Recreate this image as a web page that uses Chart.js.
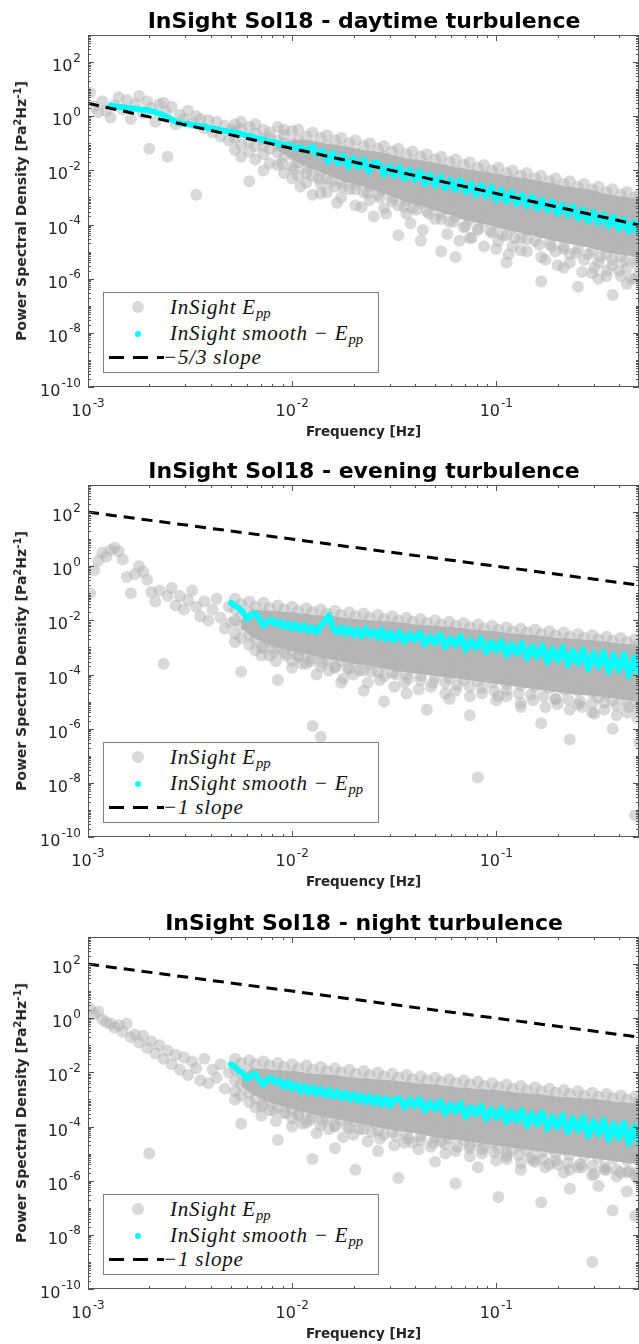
<!DOCTYPE html>
<html>
<head>
<meta charset="utf-8">
<script src="https://cdn.jsdelivr.net/npm/chart.js@4.4.1/dist/chart.umd.min.js"></script>
<style>
  html, body { margin: 0; padding: 0; background: #fff; overflow: hidden; }
  body { width: 639px; height: 1344px; position: relative; }
  .panel { position: absolute; left: 0; width: 639px; height: 448px; }
  .panel canvas { position: absolute; left: 0; top: 0; }
  .ttl { position: absolute; left: 364px; top: 20px; transform: translate(-50%, -50%); white-space: nowrap;
    font: bold 22px 'DejaVu Sans', sans-serif; color: #000; }
  .ytl { position: absolute; left: 21px; top: 211px; transform: translate(-50%, -50%) rotate(-90deg); white-space: nowrap;
    font: bold 14px 'DejaVu Sans', sans-serif; color: #262626; }
  .ytl sup { font-size: 72%; vertical-align: 5px; line-height: 0; }
  .legend { position: absolute; left: 103px; top: 292px; width: 276px; height: 81px; box-sizing: border-box;
    border: 1px solid #7f7f7f; background: #fff; font-family: 'Liberation Serif', serif; font-style: italic;
    font-size: 21px; letter-spacing: 0.8px; color: #111; }
  .legend .txt { position: absolute; left: 66px; height: 24px; line-height: 24px; white-space: nowrap; }
  .legend sub { font-size: 70%; vertical-align: -4px; line-height: 0; letter-spacing: 0; }
  .mk-grey { position: absolute; left: 28px; top: 8px; width: 12px; height: 12px; border-radius: 50%; background: #d9d9d9; }
  .mk-cyan { position: absolute; left: 31px; top: 38px; width: 6px; height: 6px; border-radius: 50%; background: #00ffff; }
  .mk-dash { position: absolute; left: 5px; top: 63px; width: 55px; height: 3px;
    background: repeating-linear-gradient(to right, #000 0 15px, transparent 15px 24px); }
</style>
</head>
<body>
<div class="panel" style="top:0px"><canvas id="day" width="639" height="448"></canvas></div>
<div class="panel" style="top:450px"><canvas id="evening" width="639" height="448"></canvas></div>
<div class="panel" style="top:902px"><canvas id="night" width="639" height="448"></canvas></div>
<script>
// all series values are log10: [log10 f, log10 PSD]
const xTickValues = [1e-3, 1e-2, 1e-1];
const xTickExps = ['-3', '-2', '-1'];
const yTickValues = [1e-10, 1e-8, 1e-6, 1e-4, 1e-2, 1, 1e2];
const yTickExps = ['-10', '-8', '-6', '-4', '-2', '0', '2'];

// ---- daytime ----
const dayLow = [
  [-2.99, 0.88], [-2.97, 0.35], [-2.95, 0.15], [-2.93, 0.55], [-2.91, 0.2], [-2.89, -0.05], [-2.87, 0.4],
  [-2.85, 0.7], [-2.83, 0.25], [-2.81, 0.6], [-2.79, -0.1], [-2.77, 0.45], [-2.75, 0.75], [-2.73, 0.1],
  [-2.71, 0.55], [-2.70, -1.2], [-2.69, 0.3], [-2.67, -0.2], [-2.65, 0.45], [-2.63, 0.5], [-2.62, 0.15],
  [-2.61, -1.5], [-2.59, 0.35], [-2.57, -0.3], [-2.55, 0.05], [-2.53, -0.1], [-2.51, 0.2], [-2.49, -0.25],
  [-2.47, 0.0], [-2.47, -2.9], [-2.45, -0.1], [-2.43, -0.45], [-2.41, -0.15], [-2.39, -0.6], [-2.37, -0.2],
  [-2.35, -0.75], [-2.33, -0.35], [-2.31, -0.9], [-2.30, -0.5]
];
const dayCloud = [
  [-2.28, -0.3, -0.8, -1.25, -0.55], [-2.25, -0.5, -1.05, -1.5, -0.2], [-2.21, -0.4, -0.95, -1.3, -2.4],
  [-2.18, -0.65, -1.1, -0.3, -1.6], [-2.14, -0.5, -0.85, -1.4, -1.1, -2.0], [-2.11, -0.6, -1.2, -0.8, -1.75],
  [-2.07, -0.4, -0.9, -1.35, -1.8, -1.1], [-2.04, -0.7, -1.0, -1.5, -2.1, -0.5],
  [-2.00, -0.55, -1.0, -1.4, -1.85, -2.3], [-1.97, -0.5, -0.9, -1.3, -1.7, -2.2, -1.1],
  [-1.93, -0.75, -1.1, -1.55, -1.9, -2.45], [-1.90, -0.6, -1.05, -1.4, -1.8, -2.2, -2.9],
  [-1.86, -0.8, -1.2, -1.6, -2.05, -2.5], [-1.83, -0.7, -1.1, -1.5, -1.95, -2.3, -2.8],
  [-1.79, -0.9, -1.3, -1.75, -2.1, -2.6], [-1.76, -0.8, -1.2, -1.6, -2.0, -2.45, -3.0],
  [-1.72, -1.0, -1.4, -1.8, -2.25, -2.7], [-1.69, -0.9, -1.35, -1.7, -2.1, -2.5, -3.3],
  [-1.65, -1.1, -1.5, -1.9, -2.3, -2.8], [-1.62, -1.0, -1.4, -1.85, -2.2, -2.6, -3.1],
  [-1.58, -1.2, -1.6, -2.0, -2.4, -2.9], [-1.55, -1.1, -1.5, -1.9, -2.35, -2.7, -3.4],
  [-1.51, -1.3, -1.7, -2.1, -2.5, -3.0], [-1.48, -1.2, -1.6, -2.05, -2.4, -2.8, -3.3, -4.4],
  [-1.44, -1.4, -1.8, -2.2, -2.6, -3.1, -3.6], [-1.41, -1.3, -1.7, -2.15, -2.5, -2.9, -3.4],
  [-1.37, -1.5, -1.9, -2.3, -2.7, -3.2, -4.6], [-1.34, -1.4, -1.8, -2.2, -2.65, -3.0, -3.5],
  [-1.30, -1.6, -2.0, -2.4, -2.8, -3.3, -3.8], [-1.27, -1.5, -1.9, -2.35, -2.7, -3.1, -3.6, -5.0],
  [-1.23, -1.7, -2.1, -2.5, -2.95, -3.4, -3.9], [-1.20, -1.6, -2.0, -2.4, -2.8, -3.2, -3.7, -5.2],
  [-1.16, -1.8, -2.2, -2.65, -3.0, -3.5, -4.1], [-1.13, -1.7, -2.1, -2.5, -2.9, -3.35, -3.8, -4.5],
  [-1.09, -1.9, -2.3, -2.7, -3.15, -3.6, -4.2], [-1.06, -1.8, -2.2, -2.6, -3.0, -3.4, -3.9, -4.8],
  [-1.02, -2.0, -2.4, -2.85, -3.2, -3.7, -4.3], [-0.99, -1.9, -2.3, -2.7, -3.1, -3.5, -4.0, -4.6],
  [-0.95, -2.1, -2.5, -2.9, -3.35, -3.8, -4.4, -5.4], [-0.92, -2.0, -2.4, -2.8, -3.2, -3.6, -4.1, -4.8],
  [-0.88, -2.2, -2.6, -3.0, -3.45, -3.9, -4.5], [-0.85, -2.1, -2.5, -2.95, -3.3, -3.7, -4.2, -5.0],
  [-0.81, -2.3, -2.7, -3.1, -3.5, -4.0, -4.6], [-0.78, -2.2, -2.6, -3.0, -3.4, -3.8, -4.3, -5.2, -6.1],
  [-0.74, -2.4, -2.8, -3.2, -3.65, -4.1, -4.7], [-0.71, -2.3, -2.7, -3.1, -3.5, -3.9, -4.4, -5.0],
  [-0.67, -2.5, -2.9, -3.3, -3.7, -4.2, -4.8, -5.6], [-0.64, -2.4, -2.8, -3.25, -3.6, -4.0, -4.5, -5.1],
  [-0.60, -2.6, -3.0, -3.4, -3.8, -4.3, -4.9, -6.3], [-0.57, -2.5, -2.9, -3.3, -3.75, -4.1, -4.6, -5.3],
  [-0.53, -2.7, -3.1, -3.5, -3.9, -4.4, -5.0, -5.8], [-0.50, -2.6, -3.0, -3.4, -3.8, -4.2, -4.7, -5.4, -6.0],
  [-0.46, -2.8, -3.2, -3.6, -4.05, -4.5, -5.1, -5.7], [-0.43, -2.7, -3.1, -3.5, -3.9, -4.3, -4.8, -5.5, -6.6],
  [-0.39, -2.9, -3.3, -3.7, -4.1, -4.6, -5.2, -5.9], [-0.36, -2.8, -3.2, -3.6, -4.0, -4.4, -4.9, -5.6, -6.2],
  [-0.32, -3.0, -3.4, -3.8, -4.2, -4.7, -5.3, -6.0], [-0.30, -2.9, -3.3, -3.7, -4.1, -4.5, -5.0, -5.8]
];
// markers along and below the lower edge of the dense core
const dayFringe = [
  [-2.05, -1.75], [-1.99, -1.95], [-1.93, -2.1], [-1.87, -2.3], [-1.81, -2.4], [-1.75, -2.6], [-1.69, -2.7],
  [-1.63, -2.85], [-1.57, -3.0], [-1.51, -3.15], [-1.45, -3.35], [-1.39, -3.45], [-1.33, -3.6], [-1.27, -3.8],
  [-1.21, -3.9], [-1.15, -4.05], [-1.09, -4.15], [-1.03, -4.25], [-0.97, -4.4], [-0.91, -4.5], [-0.85, -4.55],
  [-0.79, -4.75], [-0.73, -4.8], [-0.67, -4.9], [-0.61, -5.05], [-0.55, -5.1], [-0.49, -5.2], [-0.43, -5.3],
  [-0.37, -5.35], [-0.31, -5.45],
  [-1.96, -2.6], [-1.86, -2.85], [-1.78, -3.2], [-1.66, -3.35], [-1.60, -3.7], [-1.54, -3.6], [-1.42, -3.95],
  [-1.36, -4.2], [-1.24, -4.35], [-1.18, -4.6], [-1.12, -4.5], [-1.00, -4.9], [-0.94, -5.1], [-0.88, -4.95],
  [-0.76, -5.3], [-0.70, -5.5], [-0.64, -5.4], [-0.58, -5.75], [-0.52, -5.6], [-0.46, -5.9], [-0.40, -5.7],
  [-0.34, -6.0]
];
// dense core of the cloud, where the markers merge into one grey mass
const dayCoreTop = [[-2.08, -1.0], [-2.0, -0.9], [-1.95, -0.85], [-1.85, -1.0], [-1.75, -1.1], [-1.65, -1.25],
  [-1.55, -1.35], [-1.45, -1.55], [-1.35, -1.65], [-1.25, -1.8], [-1.15, -1.95], [-1.05, -2.05], [-0.95, -2.2],
  [-0.85, -2.3], [-0.75, -2.45], [-0.65, -2.6], [-0.55, -2.7], [-0.45, -2.9], [-0.35, -3.0], [-0.30, -3.05]];
const dayCoreBottom = [[-2.08, -1.2], [-2.0, -1.6], [-1.95, -1.8], [-1.85, -2.1], [-1.75, -2.4], [-1.65, -2.6],
  [-1.55, -2.85], [-1.45, -3.15], [-1.35, -3.35], [-1.25, -3.6], [-1.15, -3.85], [-1.05, -4.0], [-0.95, -4.2],
  [-0.85, -4.35], [-0.75, -4.55], [-0.65, -4.7], [-0.55, -4.85], [-0.45, -5.05], [-0.35, -5.15], [-0.30, -5.25]];
const daySmooth = [
  [-2.89, 0.40], [-2.86, 0.36], [-2.83, 0.33], [-2.80, 0.30], [-2.77, 0.28], [-2.74, 0.25], [-2.71, 0.22],
  [-2.68, 0.17], [-2.65, 0.10], [-2.62, 0.00], [-2.59, -0.12], [-2.56, -0.24], [-2.53, -0.28], [-2.50, -0.30],
  [-2.47, -0.34], [-2.44, -0.38], [-2.41, -0.43], [-2.38, -0.46], [-2.35, -0.52], [-2.32, -0.55],
  [-2.29, -0.60], [-2.26, -0.64], [-2.23, -0.70], [-2.20, -0.74], [-2.17, -0.82], [-2.14, -0.86],
  [-2.11, -0.94], [-2.08, -0.97], [-2.05, -1.06], [-2.02, -1.05], [-1.99, -1.18], [-1.96, -1.14],
  [-1.93, -1.30], [-1.90, -1.12], [-1.88, -1.40], [-1.85, -1.30], [-1.825, -1.68], [-1.80, -1.36],
  [-1.775, -1.74], [-1.75, -1.46], [-1.725, -1.88], [-1.70, -1.55], [-1.675, -1.90], [-1.65, -1.60],
  [-1.625, -2.04], [-1.60, -1.70], [-1.575, -1.76], [-1.55, -2.16], [-1.525, -1.84], [-1.50, -2.20],
  [-1.475, -1.88], [-1.45, -2.32], [-1.425, -1.98], [-1.40, -2.36], [-1.375, -2.04], [-1.35, -2.50],
  [-1.325, -2.16], [-1.30, -2.56], [-1.275, -2.22], [-1.25, -2.66], [-1.225, -2.34], [-1.20, -2.72],
  [-1.175, -2.36], [-1.15, -2.82], [-1.125, -2.48], [-1.10, -2.92], [-1.075, -2.54], [-1.05, -2.96],
  [-1.025, -2.60], [-1.00, -3.10], [-0.975, -2.72], [-0.95, -3.16], [-0.925, -2.80], [-0.90, -3.24],
  [-0.875, -2.90], [-0.85, -3.32], [-0.825, -2.96], [-0.80, -3.42], [-0.775, -3.08], [-0.75, -3.48],
  [-0.725, -3.14], [-0.70, -3.60], [-0.675, -3.26], [-0.65, -3.66], [-0.625, -3.32], [-0.60, -3.78],
  [-0.575, -3.44], [-0.55, -3.88], [-0.525, -3.52], [-0.50, -3.96], [-0.475, -3.62], [-0.45, -4.06],
  [-0.425, -3.70], [-0.40, -4.16], [-0.375, -3.80], [-0.35, -4.26], [-0.325, -3.90], [-0.30, -4.32]
];
const daySlope = [[-3, 0.477], [-0.301, -4.02]];

// ---- evening ----
const eveLow = [
  [-2.99, -1.0], [-2.97, -0.15], [-2.95, 0.2], [-2.93, 0.5], [-2.91, 0.35], [-2.89, 0.6], [-2.87, 0.68],
  [-2.85, 0.55], [-2.83, 0.25], [-2.81, -0.4], [-2.79, -1.0], [-2.77, -0.3], [-2.75, 0.0], [-2.73, -0.2],
  [-2.71, -0.5], [-2.69, -0.95], [-2.67, -1.3], [-2.65, -0.9], [-2.63, -3.6], [-2.61, -1.1], [-2.59, -0.8],
  [-2.57, -1.45], [-2.55, -1.1], [-2.53, -1.6], [-2.51, -1.25], [-2.49, -0.9], [-2.47, -1.5], [-2.45, -1.85],
  [-2.43, -1.3], [-2.41, -2.0], [-2.39, -1.6], [-2.37, -1.2], [-2.35, -1.9], [-2.33, -2.3], [-2.31, -1.5],
  [-2.30, -2.1]
];
const eveCloud = [
  [-2.28, -1.2, -1.6, -2.0, -2.5, -2.8], [-2.25, -1.4, -1.85, -2.2, -2.65, -3.9],
  [-2.21, -1.3, -1.7, -2.1, -2.55, -2.9], [-2.18, -1.5, -1.9, -2.3, -2.7, -3.1],
  [-2.14, -1.35, -1.75, -2.2, -2.6, -3.0], [-2.11, -1.55, -2.0, -2.4, -2.8, -3.3],
  [-2.07, -1.45, -1.85, -2.25, -2.65, -3.05, -4.2], [-2.04, -1.6, -2.0, -2.45, -2.85, -3.2],
  [-2.00, -1.5, -1.9, -2.3, -2.7, -3.1, -3.5], [-1.97, -1.65, -2.05, -2.5, -2.9, -3.3],
  [-1.93, -1.55, -1.95, -2.35, -2.75, -3.2, -3.6], [-1.90, -1.7, -2.1, -2.5, -2.95, -3.4, -5.9],
  [-1.86, -1.6, -2.0, -2.4, -2.8, -3.25, -3.7, -6.3], [-1.83, -1.75, -2.15, -2.55, -3.0, -3.45],
  [-1.79, -1.65, -2.05, -2.45, -2.85, -3.3, -3.75], [-1.76, -1.8, -2.2, -2.6, -3.05, -3.5, -4.3],
  [-1.72, -1.7, -2.1, -2.5, -2.9, -3.35, -3.8], [-1.69, -1.85, -2.25, -2.65, -3.1, -3.55],
  [-1.65, -1.75, -2.15, -2.55, -2.95, -3.4, -3.85, -4.6], [-1.62, -1.9, -2.3, -2.7, -3.15, -3.6],
  [-1.58, -1.8, -2.2, -2.6, -3.0, -3.45, -3.9], [-1.55, -1.95, -2.35, -2.75, -3.2, -3.65, -5.0],
  [-1.51, -1.85, -2.25, -2.65, -3.05, -3.5, -3.95], [-1.48, -2.0, -2.4, -2.8, -3.25, -3.7],
  [-1.44, -1.9, -2.3, -2.7, -3.1, -3.55, -4.0, -4.7], [-1.41, -2.05, -2.45, -2.85, -3.3, -3.75],
  [-1.37, -1.95, -2.35, -2.75, -3.15, -3.6, -4.05], [-1.34, -2.1, -2.5, -2.9, -3.35, -3.8, -5.3],
  [-1.30, -2.0, -2.4, -2.8, -3.2, -3.65, -4.1], [-1.27, -2.15, -2.55, -2.95, -3.4, -3.85],
  [-1.23, -2.05, -2.45, -2.85, -3.25, -3.7, -4.15, -4.9], [-1.20, -2.2, -2.6, -3.0, -3.45, -3.9],
  [-1.16, -2.1, -2.5, -2.9, -3.3, -3.75, -4.2], [-1.13, -2.25, -2.65, -3.05, -3.5, -3.95, -5.5],
  [-1.09, -2.15, -2.55, -2.95, -3.35, -3.8, -4.25, -7.8], [-1.06, -2.3, -2.7, -3.1, -3.55, -4.0],
  [-1.02, -2.2, -2.6, -3.0, -3.4, -3.85, -4.3], [-0.99, -2.35, -2.75, -3.15, -3.6, -4.05, -4.8],
  [-0.95, -2.25, -2.65, -3.05, -3.45, -3.9, -4.35], [-0.92, -2.4, -2.8, -3.2, -3.65, -4.1],
  [-0.88, -2.3, -2.7, -3.1, -3.5, -3.95, -4.4, -5.2], [-0.85, -2.45, -2.85, -3.25, -3.7, -4.15],
  [-0.81, -2.35, -2.75, -3.15, -3.55, -4.0, -4.45], [-0.78, -2.5, -2.9, -3.3, -3.75, -4.2, -5.8],
  [-0.74, -2.4, -2.8, -3.2, -3.6, -4.05, -4.5], [-0.71, -2.55, -2.95, -3.35, -3.8, -4.25, -4.9],
  [-0.67, -2.45, -2.85, -3.25, -3.65, -4.1, -4.55], [-0.64, -2.6, -3.0, -3.4, -3.85, -4.3, -6.4],
  [-0.60, -2.5, -2.9, -3.3, -3.7, -4.15, -4.6, -5.1], [-0.57, -2.65, -3.05, -3.45, -3.9, -4.35],
  [-0.53, -2.55, -2.95, -3.35, -3.75, -4.2, -4.65, -5.4], [-0.50, -2.7, -3.1, -3.5, -3.95, -4.4, -4.85],
  [-0.46, -2.6, -3.0, -3.4, -3.8, -4.25, -4.7], [-0.43, -2.75, -3.15, -3.55, -4.0, -4.45, -4.95, -6.0],
  [-0.39, -2.65, -3.05, -3.45, -3.85, -4.3, -4.75], [-0.36, -2.8, -3.2, -3.6, -4.05, -4.5, -5.0],
  [-0.32, -2.7, -3.1, -3.5, -3.9, -4.35, -4.8, -9.2], [-0.30, -2.85, -3.25, -3.65, -4.1, -4.55, -5.1, -6.5]
];
const eveFringe = [
  [-2.15, -3.0], [-2.09, -3.15], [-2.03, -3.3], [-1.97, -3.35], [-1.91, -3.5], [-1.85, -3.55], [-1.79, -3.7],
  [-1.73, -3.75], [-1.67, -3.85], [-1.61, -3.9], [-1.55, -4.05], [-1.49, -4.0], [-1.43, -4.15], [-1.37, -4.2],
  [-1.31, -4.3], [-1.25, -4.3], [-1.19, -4.4], [-1.13, -4.45], [-1.07, -4.5], [-1.01, -4.6], [-0.95, -4.6],
  [-0.89, -4.7], [-0.83, -4.75], [-0.77, -4.8], [-0.71, -4.9], [-0.65, -4.9], [-0.59, -5.0], [-0.53, -5.05],
  [-0.47, -5.05], [-0.41, -5.15], [-0.35, -5.2], [-0.31, -5.25],
  [-2.15, -3.3], [-2.08, -3.5], [-2.00, -3.75], [-1.95, -3.6], [-1.88, -4.0], [-1.82, -3.85], [-1.75, -4.15],
  [-1.70, -4.0], [-1.63, -4.3], [-1.57, -4.2], [-1.50, -4.45], [-1.45, -4.3], [-1.38, -4.55], [-1.32, -4.45],
  [-1.25, -4.7], [-1.20, -4.6], [-1.13, -4.8], [-1.07, -4.7], [-1.00, -4.95], [-0.95, -4.8], [-0.88, -5.05],
  [-0.82, -4.95], [-0.76, -5.2], [-0.70, -5.1], [-0.64, -5.3], [-0.58, -5.2], [-0.52, -5.45], [-0.47, -5.3],
  [-0.41, -5.5], [-0.36, -5.4], [-0.31, -5.6]
];
const eveCoreTop = [[-2.25, -2.0], [-2.2, -1.6], [-2.1, -1.65], [-2.0, -1.7], [-1.9, -1.8], [-1.8, -1.85],
  [-1.7, -1.95], [-1.6, -2.0], [-1.5, -2.05], [-1.4, -2.15], [-1.3, -2.2], [-1.2, -2.25], [-1.1, -2.35],
  [-1.0, -2.4], [-0.9, -2.5], [-0.8, -2.55], [-0.7, -2.65], [-0.6, -2.7], [-0.5, -2.75], [-0.4, -2.85], [-0.3, -2.9]];
const eveCoreBottom = [[-2.25, -2.3], [-2.2, -2.6], [-2.1, -2.95], [-2.0, -3.15], [-1.9, -3.3], [-1.8, -3.45],
  [-1.7, -3.6], [-1.6, -3.7], [-1.5, -3.85], [-1.4, -3.95], [-1.3, -4.05], [-1.2, -4.15], [-1.1, -4.25],
  [-1.0, -4.35], [-0.9, -4.45], [-0.8, -4.55], [-0.7, -4.65], [-0.6, -4.75], [-0.5, -4.8], [-0.4, -4.9], [-0.3, -5.0]];
const eveSmooth = [
  [-2.30, -1.35], [-2.28, -1.45], [-2.26, -1.55], [-2.24, -1.70], [-2.22, -1.95], [-2.20, -1.80],
  [-2.18, -1.75], [-2.16, -1.95], [-2.14, -2.20], [-2.12, -2.05], [-2.10, -1.98], [-2.08, -2.15],
  [-2.06, -2.05], [-2.04, -2.25], [-2.02, -2.10], [-2.00, -2.30], [-1.98, -2.15], [-1.96, -2.35],
  [-1.94, -2.20], [-1.92, -2.40], [-1.90, -2.25], [-1.88, -2.45], [-1.86, -2.20], [-1.84, -2.05],
  [-1.82, -1.80], [-1.80, -2.30], [-1.78, -2.45], [-1.76, -2.25], [-1.74, -2.50], [-1.72, -2.30],
  [-1.70, -2.55], [-1.68, -2.35], [-1.66, -2.60], [-1.64, -2.30], [-1.62, -2.55], [-1.60, -2.40],
  [-1.58, -2.65], [-1.56, -2.35], [-1.54, -2.70], [-1.52, -2.45], [-1.50, -2.75], [-1.475, -2.42],
  [-1.45, -2.80], [-1.425, -2.50], [-1.40, -2.74], [-1.375, -2.46], [-1.35, -2.90], [-1.325, -2.58],
  [-1.30, -2.84], [-1.275, -2.52], [-1.25, -2.98], [-1.225, -2.66], [-1.20, -2.92], [-1.175, -2.58],
  [-1.15, -3.10], [-1.125, -2.74], [-1.10, -3.02], [-1.075, -2.66], [-1.05, -3.18], [-1.025, -2.80],
  [-1.00, -3.12], [-0.975, -2.76], [-0.95, -3.30], [-0.925, -2.88], [-0.90, -3.24], [-0.875, -2.84],
  [-0.85, -3.42], [-0.825, -2.96], [-0.80, -3.36], [-0.775, -2.92], [-0.75, -3.55], [-0.725, -3.04],
  [-0.70, -3.48], [-0.675, -3.00], [-0.65, -3.66], [-0.625, -3.12], [-0.60, -3.60], [-0.575, -3.08],
  [-0.55, -3.80], [-0.525, -3.20], [-0.50, -3.72], [-0.475, -3.16], [-0.45, -3.92], [-0.425, -3.28],
  [-0.40, -3.86], [-0.375, -3.24], [-0.35, -4.06], [-0.325, -3.36], [-0.30, -4.00]
];
const eveSlope = [[-3, 2], [-0.301, -0.699]];

// ---- night ----
const nightLow = [
  [-2.99, 0.35], [-2.97, 0.15], [-2.95, 0.25], [-2.93, -0.05], [-2.91, -0.15], [-2.89, -0.2], [-2.87, -0.35],
  [-2.85, -0.25], [-2.83, -0.5], [-2.81, -0.2], [-2.79, -0.7], [-2.77, -0.6], [-2.75, -0.9], [-2.73, -0.65],
  [-2.71, -1.1], [-2.70, -5.0], [-2.69, -0.85], [-2.67, -1.3], [-2.65, -1.0], [-2.63, -1.5], [-2.61, -1.2],
  [-2.59, -1.7], [-2.57, -1.35], [-2.55, -1.9], [-2.53, -1.45], [-2.51, -2.1], [-2.49, -1.6], [-2.47, -1.85],
  [-2.45, -2.3], [-2.43, -1.5], [-2.41, -2.4], [-2.39, -1.9], [-2.37, -2.2], [-2.35, -1.7], [-2.33, -2.6],
  [-2.31, -2.0]
];
const nightCloud = [
  [-2.28, -1.5, -1.9, -2.3, -2.7, -3.0], [-2.25, -1.65, -2.05, -2.45, -2.85, -3.9],
  [-2.21, -1.55, -1.95, -2.35, -2.75, -3.1], [-2.18, -1.7, -2.1, -2.5, -2.95, -3.3],
  [-2.14, -1.6, -2.0, -2.45, -2.85, -3.2], [-2.11, -1.75, -2.15, -2.6, -3.0, -3.4],
  [-2.07, -1.65, -2.05, -2.5, -2.9, -3.3, -4.5], [-2.04, -1.8, -2.2, -2.65, -3.05, -3.5],
  [-2.00, -1.7, -2.1, -2.55, -2.95, -3.35, -3.7], [-1.97, -1.85, -2.25, -2.7, -3.1, -3.55],
  [-1.93, -1.75, -2.15, -2.6, -3.0, -3.45, -3.85], [-1.90, -1.9, -2.3, -2.75, -3.2, -3.65, -5.2],
  [-1.86, -1.8, -2.2, -2.65, -3.05, -3.5, -3.95], [-1.83, -1.95, -2.35, -2.8, -3.25, -3.7],
  [-1.79, -1.85, -2.25, -2.7, -3.1, -3.55, -4.0, -4.8], [-1.76, -2.0, -2.4, -2.85, -3.3, -3.75],
  [-1.72, -1.9, -2.3, -2.75, -3.15, -3.6, -4.05], [-1.69, -2.05, -2.45, -2.9, -3.35, -3.8, -5.6],
  [-1.65, -1.95, -2.35, -2.8, -3.2, -3.65, -4.1], [-1.62, -2.1, -2.5, -2.95, -3.4, -3.85],
  [-1.58, -2.0, -2.4, -2.85, -3.25, -3.7, -4.15, -4.9], [-1.55, -2.15, -2.55, -3.0, -3.45, -3.9],
  [-1.51, -2.05, -2.45, -2.9, -3.3, -3.75, -4.2], [-1.48, -2.2, -2.6, -3.05, -3.5, -3.95, -5.9],
  [-1.44, -2.1, -2.5, -2.95, -3.35, -3.8, -4.3], [-1.41, -2.25, -2.65, -3.1, -3.55, -4.0, -4.6],
  [-1.37, -2.15, -2.55, -3.0, -3.4, -3.85, -4.35], [-1.34, -2.3, -2.7, -3.15, -3.6, -4.05],
  [-1.30, -2.2, -2.6, -3.05, -3.45, -3.9, -4.4, -5.3], [-1.27, -2.35, -2.75, -3.2, -3.65, -4.1, -4.55],
  [-1.23, -2.25, -2.65, -3.1, -3.5, -3.95, -4.45], [-1.20, -2.4, -2.8, -3.25, -3.7, -4.15, -6.1],
  [-1.16, -2.3, -2.7, -3.15, -3.55, -4.0, -4.5], [-1.13, -2.45, -2.85, -3.3, -3.75, -4.2, -4.7],
  [-1.09, -2.35, -2.75, -3.2, -3.6, -4.05, -4.55, -5.5], [-1.06, -2.5, -2.9, -3.35, -3.8, -4.25, -4.75],
  [-1.02, -2.4, -2.8, -3.25, -3.65, -4.1, -4.6], [-0.99, -2.55, -2.95, -3.4, -3.85, -4.3, -4.8, -6.6],
  [-0.95, -2.45, -2.85, -3.3, -3.7, -4.15, -4.65, -5.2], [-0.92, -2.6, -3.0, -3.45, -3.9, -4.35, -4.85],
  [-0.88, -2.5, -2.9, -3.35, -3.75, -4.2, -4.7, -5.6], [-0.85, -2.65, -3.05, -3.5, -3.95, -4.4, -4.9],
  [-0.81, -2.55, -2.95, -3.4, -3.8, -4.25, -4.75, -5.3], [-0.78, -2.7, -3.1, -3.55, -4.0, -4.45, -4.95, -6.8],
  [-0.74, -2.6, -3.0, -3.45, -3.85, -4.3, -4.8, -5.4], [-0.71, -2.75, -3.15, -3.6, -4.05, -4.5, -5.0],
  [-0.67, -2.65, -3.05, -3.5, -3.9, -4.35, -4.85, -5.7], [-0.64, -2.8, -3.2, -3.65, -4.1, -4.55, -5.05, -6.3],
  [-0.60, -2.7, -3.1, -3.55, -3.95, -4.4, -4.9, -5.5], [-0.57, -2.85, -3.25, -3.7, -4.15, -4.6, -5.1],
  [-0.53, -2.75, -3.15, -3.6, -4.0, -4.45, -4.95, -5.8, -9.0], [-0.50, -2.9, -3.3, -3.75, -4.2, -4.65, -5.15, -6.2],
  [-0.46, -2.8, -3.2, -3.65, -4.05, -4.5, -5.0, -5.6], [-0.43, -2.95, -3.35, -3.8, -4.25, -4.7, -5.2, -7.1],
  [-0.39, -2.85, -3.25, -3.7, -4.1, -4.55, -5.05, -5.7], [-0.36, -3.0, -3.4, -3.85, -4.3, -4.75, -5.25, -6.4],
  [-0.32, -2.9, -3.3, -3.75, -4.15, -4.6, -5.1, -5.8, -7.3], [-0.30, -3.05, -3.45, -3.9, -4.35, -4.8, -5.3, -6.0]
];
const nightFringe = [
  [-2.15, -3.25], [-2.09, -3.4], [-2.03, -3.5], [-1.97, -3.6], [-1.91, -3.75], [-1.85, -3.8], [-1.79, -3.95],
  [-1.73, -4.0], [-1.67, -4.1], [-1.61, -4.2], [-1.55, -4.3], [-1.49, -4.35], [-1.43, -4.45], [-1.37, -4.5],
  [-1.31, -4.6], [-1.25, -4.65], [-1.19, -4.75], [-1.13, -4.8], [-1.07, -4.85], [-1.01, -4.95], [-0.95, -5.0],
  [-0.89, -5.05], [-0.83, -5.15], [-0.77, -5.2], [-0.71, -5.25], [-0.65, -5.35], [-0.59, -5.4], [-0.53, -5.45],
  [-0.47, -5.5], [-0.41, -5.6], [-0.35, -5.65], [-0.31, -5.7],
  [-2.15, -3.6], [-2.08, -3.8], [-2.00, -4.0], [-1.95, -3.9], [-1.88, -4.25], [-1.82, -4.1], [-1.75, -4.4],
  [-1.70, -4.3], [-1.63, -4.55], [-1.57, -4.45], [-1.50, -4.7], [-1.45, -4.6], [-1.38, -4.85], [-1.32, -4.75],
  [-1.25, -5.0], [-1.20, -4.9], [-1.13, -5.1], [-1.07, -5.0], [-1.00, -5.25], [-0.95, -5.1], [-0.88, -5.35],
  [-0.82, -5.25], [-0.76, -5.5], [-0.70, -5.4], [-0.64, -5.6], [-0.58, -5.5], [-0.52, -5.75], [-0.47, -5.6],
  [-0.41, -5.85], [-0.36, -5.7], [-0.31, -5.9]
];
const nightCoreTop = [[-2.25, -2.2], [-2.2, -1.85], [-2.1, -1.9], [-2.0, -1.95], [-1.9, -2.05], [-1.8, -2.1],
  [-1.7, -2.2], [-1.6, -2.25], [-1.5, -2.3], [-1.4, -2.4], [-1.3, -2.45], [-1.2, -2.55], [-1.1, -2.6],
  [-1.0, -2.65], [-0.9, -2.75], [-0.8, -2.8], [-0.7, -2.9], [-0.6, -2.95], [-0.5, -3.0], [-0.4, -3.1], [-0.3, -3.15]];
const nightCoreBottom = [[-2.25, -2.5], [-2.2, -2.8], [-2.1, -3.15], [-2.0, -3.35], [-1.9, -3.55], [-1.8, -3.7],
  [-1.7, -3.85], [-1.6, -4.0], [-1.5, -4.15], [-1.4, -4.25], [-1.3, -4.4], [-1.2, -4.5], [-1.1, -4.6],
  [-1.0, -4.7], [-0.9, -4.8], [-0.8, -4.9], [-0.7, -5.0], [-0.6, -5.1], [-0.5, -5.2], [-0.4, -5.3], [-0.3, -5.4]];
const nightSmooth = [
  [-2.30, -1.70], [-2.28, -1.80], [-2.26, -1.95], [-2.24, -2.05], [-2.22, -2.25], [-2.20, -2.10],
  [-2.18, -2.05], [-2.16, -2.30], [-2.14, -2.45], [-2.12, -2.25], [-2.10, -2.20], [-2.08, -2.40],
  [-2.06, -2.30], [-2.04, -2.55], [-2.02, -2.35], [-2.00, -2.60], [-1.98, -2.45], [-1.96, -2.70],
  [-1.94, -2.50], [-1.92, -2.75], [-1.90, -2.55], [-1.88, -2.80], [-1.86, -2.60], [-1.84, -2.85],
  [-1.82, -2.65], [-1.80, -2.90], [-1.78, -2.70], [-1.76, -2.95], [-1.74, -2.75], [-1.72, -3.00],
  [-1.70, -2.80], [-1.68, -3.05], [-1.66, -2.85], [-1.64, -3.10], [-1.62, -2.88], [-1.60, -3.15],
  [-1.58, -2.92], [-1.56, -3.20], [-1.54, -2.95], [-1.52, -3.25], [-1.50, -3.00], [-1.475, -2.95],
  [-1.45, -3.30], [-1.425, -3.00], [-1.40, -3.24], [-1.375, -2.98], [-1.35, -3.42], [-1.325, -3.10],
  [-1.30, -3.36], [-1.275, -3.06], [-1.25, -3.52], [-1.225, -3.18], [-1.20, -3.46], [-1.175, -3.14],
  [-1.15, -3.64], [-1.125, -3.28], [-1.10, -3.56], [-1.075, -3.22], [-1.05, -3.74], [-1.025, -3.36],
  [-1.00, -3.68], [-0.975, -3.32], [-0.95, -3.86], [-0.925, -3.44], [-0.90, -3.80], [-0.875, -3.40],
  [-0.85, -3.98], [-0.825, -3.52], [-0.80, -3.92], [-0.775, -3.48], [-0.75, -4.10], [-0.725, -3.62],
  [-0.70, -4.04], [-0.675, -3.58], [-0.65, -4.22], [-0.625, -3.70], [-0.60, -4.16], [-0.575, -3.66],
  [-0.55, -4.36], [-0.525, -3.80], [-0.50, -4.30], [-0.475, -3.76], [-0.45, -4.50], [-0.425, -3.90],
  [-0.40, -4.44], [-0.375, -3.86], [-0.35, -4.64], [-0.325, -3.98], [-0.30, -4.58]
];
const nightSlope = [[-3, 2], [-0.301, -0.699]];

const toPt = ([lf, lp]) => ({ x: Math.pow(10, lf), y: Math.pow(10, lp) });

function cloudPoints(low, cloud, fringe) {
  const pts = low.concat(fringe).map(toPt);
  cloud.forEach(([lf, ...lps]) => lps.forEach((lp) => pts.push(toPt([lf, lp]))));
  return pts;
}

// MATLAB-like box with inward major/minor ticks and 10^n labels
const axesBox = {
  id: 'axesBox',
  afterDraw(chart) {
    const { ctx, chartArea: a, scales: { x, y } } = chart;
    ctx.save();
    ctx.strokeStyle = '#555';
    ctx.lineWidth = 1;
    ctx.beginPath();
    for (let e = -3; e <= -1; e++) {
      for (let m = 1; m <= 9; m++) {
        const v = m * Math.pow(10, e);
        if (v > x.max) break;
        const px = Math.round(x.getPixelForValue(v)) + 0.5;
        const len = m === 1 ? 6 : 3;
        ctx.moveTo(px, a.bottom); ctx.lineTo(px, a.bottom - len);
        ctx.moveTo(px, a.top); ctx.lineTo(px, a.top + len);
      }
    }
    for (let e = -10; e <= 2; e++) {
      for (let m = 1; m <= 9; m++) {
        const py = Math.round(y.getPixelForValue(m * Math.pow(10, e))) + 0.5;
        const len = m === 1 && e % 2 === 0 ? 6 : 3;
        ctx.moveTo(a.left, py); ctx.lineTo(a.left + len, py);
        ctx.moveTo(a.right, py); ctx.lineTo(a.right - len, py);
      }
    }
    ctx.stroke();
    ctx.strokeRect(a.left + 0.5, a.top + 0.5, a.right - a.left - 1, a.bottom - a.top - 1);

    ctx.fillStyle = '#262626';
    ctx.textAlign = 'left';
    ctx.textBaseline = 'alphabetic';
    const base = '16px "DejaVu Sans"';
    const sup = '12px "DejaVu Sans"';
    const power = (px, py, exp, rightAlign) => {
      ctx.font = base;
      const bw = ctx.measureText('10').width;
      ctx.font = sup;
      const ew = ctx.measureText(exp).width;
      const left = rightAlign ? px - bw - ew - 1 : px - (bw + ew + 1) / 2;
      ctx.font = base;
      ctx.fillText('10', left, py);
      ctx.font = sup;
      ctx.fillText(exp, left + bw + 1, py - 9.5);
    };
    xTickValues.forEach((v, i) => power(x.getPixelForValue(v), a.bottom + 29, xTickExps[i], false));
    yTickValues.forEach((v, i) => power(a.left - 7, y.getPixelForValue(v) + 9, yTickExps[i], true));
    ctx.restore();
  }
};

function makePanel(id, title, d, slopeText) {
  const canvas = document.getElementById(id);
  new Chart(canvas.getContext('2d'), {
    type: 'scatter',
    data: {
      datasets: [
        {
          data: d.slope.map(toPt),
          showLine: true,
          borderColor: '#000',
          borderWidth: 3,
          borderDash: [11, 7],
          pointRadius: 0,
          order: 0,
        },
        {
          data: d.smooth.map(toPt),
          showLine: true,
          borderColor: '#00ffff',
          borderWidth: 6,
          borderJoinStyle: 'round',
          borderCapStyle: 'round',
          pointRadius: 0,
          order: 1,
        },
        {
          data: cloudPoints(d.low, d.cloud, d.fringe),
          backgroundColor: 'rgba(179,179,179,0.5)',
          borderWidth: 0,
          pointRadius: 6,
          pointHoverRadius: 6,
          order: 2,
        },
        {
          data: d.coreTop.map(toPt),
          showLine: true,
          borderColor: 'rgba(0,0,0,0)',
          borderWidth: 0,
          pointRadius: 0,
          fill: false,
          order: 4,
        },
        {
          data: d.coreBottom.map(toPt),
          showLine: true,
          borderColor: 'rgba(0,0,0,0)',
          borderWidth: 0,
          pointRadius: 0,
          fill: '-1',
          backgroundColor: 'rgb(183,183,183)',
          order: 3,
        },
      ],
    },
    options: {
      responsive: false,
      animation: false,
      events: [],
      layout: { autoPadding: false, padding: { left: 0, right: 0, top: 35, bottom: 7 } },
      plugins: {
        legend: { display: false },
        tooltip: { enabled: false },
        title: { display: false },
      },
      scales: {
        x: {
          type: 'logarithmic',
          min: 1e-3,
          max: 0.5,
          afterFit: (s) => { s.height = 54; },
          grid: { display: false, drawTicks: false },
          border: { display: false },
          ticks: { display: false },
          title: {
            display: true,
            text: 'Frequency [Hz]',
            color: '#262626',
            font: { family: 'DejaVu Sans', size: 13.5, weight: 'bold' },
            padding: 0,
          },
        },
        y: {
          type: 'logarithmic',
          min: 1e-10,
          max: 1e3,
          afterFit: (s) => { s.width = 88; },
          grid: { display: false, drawTicks: false },
          border: { display: false },
          ticks: { display: false },
        },
      },
    },
    plugins: [axesBox],
  });

  const panel = canvas.parentElement;
  const ttl = document.createElement('div');
  ttl.className = 'ttl';
  ttl.textContent = title;
  panel.appendChild(ttl);

  const ytl = document.createElement('div');
  ytl.className = 'ytl';
  ytl.innerHTML = 'Power Spectral Density [Pa<sup>2</sup>Hz<sup>-1</sup>]';
  panel.appendChild(ytl);

  const legend = document.createElement('div');
  legend.className = 'legend';
  legend.innerHTML =
    '<div class="mk-grey"></div><div class="txt" style="top:2px">InSight E<sub>pp</sub></div>' +
    '<div class="mk-cyan"></div><div class="txt" style="top:28px">InSight smooth − E<sub>pp</sub></div>' +
    '<div class="mk-dash"></div><div class="txt" style="top:52px;left:59px">' + slopeText + '</div>';
  panel.appendChild(legend);
}

makePanel('day', 'InSight Sol18 - daytime turbulence', {
  low: dayLow, cloud: dayCloud, fringe: dayFringe, coreTop: dayCoreTop, coreBottom: dayCoreBottom,
  smooth: daySmooth, slope: daySlope,
}, '−5/3 slope');
makePanel('evening', 'InSight Sol18 - evening turbulence', {
  low: eveLow, cloud: eveCloud, fringe: eveFringe, coreTop: eveCoreTop, coreBottom: eveCoreBottom,
  smooth: eveSmooth, slope: eveSlope,
}, '−1 slope');
makePanel('night', 'InSight Sol18 - night turbulence', {
  low: nightLow, cloud: nightCloud, fringe: nightFringe, coreTop: nightCoreTop, coreBottom: nightCoreBottom,
  smooth: nightSmooth, slope: nightSlope,
}, '−1 slope');
</script>
</body>
</html>
